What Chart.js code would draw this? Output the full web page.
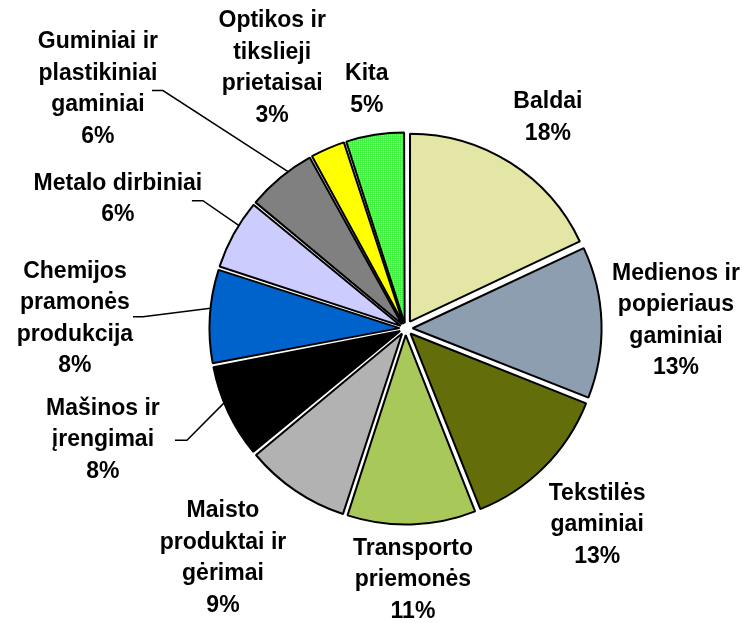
<!DOCTYPE html>
<html><head><meta charset="utf-8">
<script src="https://cdn.jsdelivr.net/npm/chart.js@4"></script>
<style>html,body{margin:0;padding:0;background:#fff}#wrap{width:742px;height:623px;position:relative}</style>
</head><body><div id="wrap"><canvas id="c"></canvas></div>
<script>
const categories = [
  ["Baldai"],
  ["Medienos ir","popieriaus","gaminiai"],
  ["Tekstilės","gaminiai"],
  ["Transporto","priemonės"],
  ["Maisto","produktai ir","gėrimai"],
  ["Mašinos ir","įrengimai"],
  ["Chemijos","pramonės","produkcija"],
  ["Metalo dirbiniai"],
  ["Guminiai ir","plastikiniai","gaminiai"],
  ["Optikos ir","tikslieji","prietaisai"],
  ["Kita"]
];
const values = [18, 13, 13, 11, 9, 8, 8, 6, 6, 3, 5];

function makePattern(){
  const p = document.createElement('canvas'); p.width = 2; p.height = 2;
  const g = p.getContext('2d');
  g.fillStyle = '#33EE33'; g.fillRect(0,0,2,2);
  g.fillStyle = '#CCFFCC'; g.fillRect(0,0,1,1);
  return document.createElement('canvas').getContext('2d').createPattern(p, 'repeat');
}
const colors = ['#E3E6A5','#8C9EB0','#636E0A','#A8C85A','#B2B2B2','#000000','#0063CC','#CCCCFF','#808080','#FFFF00', makePattern()];

const total = values.reduce((a,b)=>a+b,0);
const pct = i => Math.round(values[i]/total*100) + '%';

const labelPlugin = {
  id: 'outLabels',
  afterDatasetsDraw(chart, args, opts){
    const ctx = chart.ctx;
    const arcs = chart.getDatasetMeta(0).data;
    ctx.save();
    ctx.font = opts.font; ctx.fillStyle = '#000';
    ctx.textAlign = 'center'; ctx.textBaseline = 'middle';
    arcs.forEach((arc, i) => {
      const pl = opts.placement[i];
      const a = (pl.angle - 90) * Math.PI / 180;
      const cx = arc.x + Math.cos(a) * pl.dist, cy = arc.y + Math.sin(a) * pl.dist;
      const lines = categories[i].concat([pct(i)]);
      const n = lines.length;
      lines.forEach((t, k) => ctx.fillText(t, cx, cy + (k - (n - 1) / 2) * opts.lineHeight));
      const ld = opts.leaders[i];
      if (ld) {
        const sx = cx + ld.dx, sy = cy + ld.dy;
        const m = (arc.startAngle + arc.endAngle) / 2 + ld.dAngle * Math.PI / 180;
        const r = arc.outerRadius + 9;
        ctx.beginPath();
        ctx.moveTo(sx, sy); ctx.lineTo(sx + ld.hook, sy);
        ctx.lineTo(arc.x + Math.cos(m) * r, arc.y + Math.sin(m) * r);
        ctx.lineWidth = 1.5; ctx.strokeStyle = '#000'; ctx.stroke();
      }
    });
    ctx.restore();
  }
};

new Chart(document.getElementById('c'), {
  type: 'pie',
  data: {
    labels: categories.map(c => c.join(' ')),
    datasets: [{
      data: values,
      backgroundColor: colors,
      borderColor: '#000',
      borderWidth: 2,
      offset: (ctx) => {
        const v = ctx.dataset.data[ctx.dataIndex];
        const alpha = v / total * 2 * Math.PI;
        const fix = 1 - Math.sin(Math.min(Math.PI, alpha));
        return 36 / (1 + fix);
      }
    }]
  },
  options: {
    responsive: true, maintainAspectRatio: false, animation: false,
    layout: { padding: { left: 201, right: 132, top: 124, bottom: 90 } },
    plugins: {
      legend: { display: false }, tooltip: { enabled: false },
      outLabels: {
        font: "bold 23px 'Liberation Sans', Arial, sans-serif",
        lineHeight: 31.5,
        placement: [
          {angle: 34.0, dist: 254.6},
          {angle: 88.3, dist: 270.6},
          {angle: 135.7, dist: 274.4},
          {angle: 178.3, dist: 251.6},
          {angle: 218.5, dist: 293.2},
          {angle: 249.8, dist: 322.4},
          {angle: 271.7, dist: 330.7},
          {angle: 294.2, dist: 315.3},
          {angle: 307.9, dist: 389.8},
          {angle: 332.9, dist: 292.7},
          {angle: 350.8, dist: 242.1}
        ],
        leaders: [null, null, null, null, null,
          {dx: 72, dy: 0.5, hook: 12, dAngle: 2.9},
          {dx: 58, dy: -2, hook: 10, dAngle: 2.3},
          {dx: 74, dy: 1.5, hook: 11, dAngle: 2.9},
          {dx: 54, dy: 1.5, hook: 11, dAngle: 2.8},
          null, null]
      }
    }
  },
  plugins: [labelPlugin]
});
</script>
</body></html>
